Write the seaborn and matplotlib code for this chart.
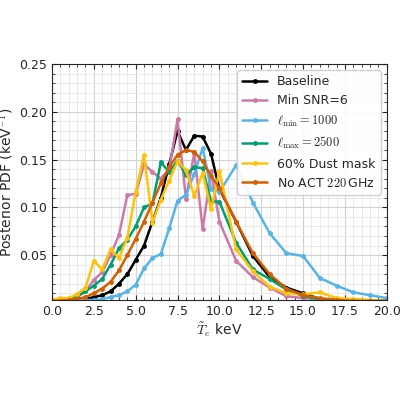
import matplotlib
matplotlib.use("Agg")
import matplotlib.pyplot as plt
import seaborn as sns
import numpy as np

# data
x_half = [0, 0.5, 1, 1.5, 2, 2.5, 3, 3.5, 4, 4.5, 5, 5.5, 6, 6.5, 7, 7.5, 8, 8.5, 9, 9.5, 10,
          11, 12, 13, 14, 15, 16, 17, 18, 19, 20]

baseline = [0.002, 0.002, 0.003, 0.003, 0.004, 0.006, 0.008, 0.012, 0.02, 0.03, 0.045, 0.06, 0.085,
            0.11, 0.145, 0.18, 0.16, 0.175, 0.174, 0.156, 0.119,
            0.085, 0.049, 0.027, 0.016, 0.01, 0.004, 0.003, 0.002, 0.002, 0.002]
min_snr = [0.003, 0.003, 0.004, 0.006, 0.012, 0.024, 0.032, 0.05, 0.071, 0.113, 0.114, 0.145, 0.137,
           0.13, 0.14, 0.192, 0.109, 0.157, 0.077, 0.138, 0.085,
           0.044, 0.027, 0.016, 0.007, 0.005, 0.004, 0.003, 0.002, 0.002, 0.002]
ell_min = [0.002, 0.002, 0.002, 0.003, 0.003, 0.003, 0.004, 0.006, 0.008, 0.012, 0.019, 0.036, 0.047,
           0.051, 0.078, 0.107, 0.113, 0.135, 0.162, 0.119, 0.116,
           0.144, 0.105, 0.073, 0.052, 0.049, 0.026, 0.018, 0.011, 0.008, 0.005]
ell_max = [0.002, 0.003, 0.004, 0.007, 0.012, 0.018, 0.025, 0.04, 0.057, 0.066, 0.08, 0.1, 0.104,
           0.147, 0.137, 0.149, 0.134, 0.142, 0.141, 0.106, 0.106,
           0.063, 0.035, 0.025, 0.014, 0.007, 0.004, 0.003, 0.002, 0.002, 0.002]
dust = [0.003, 0.005, 0.005, 0.009, 0.016, 0.044, 0.035, 0.056, 0.047, 0.068, 0.116, 0.155, 0.084,
        0.108, 0.128, 0.148, 0.139, 0.112, 0.136, 0.098, 0.138,
        0.056, 0.033, 0.017, 0.01, 0.009, 0.011, 0.005, 0.004, 0.003, 0.002]
no_act = [0.002, 0.002, 0.003, 0.004, 0.006, 0.01, 0.015, 0.022, 0.034, 0.05, 0.067, 0.085, 0.105,
          0.125, 0.142, 0.155, 0.16, 0.158, 0.148, 0.133, 0.12,
          0.085, 0.052, 0.03, 0.015, 0.008, 0.005, 0.003, 0.002, 0.002, 0.002]

series = [
    ("Baseline", baseline, "black"),
    ("Min SNR=6", min_snr, "#CC79A7"),
    (r"$\ell_{\rm min} = 1000$", ell_min, "#56B4E9"),
    (r"$\ell_{\rm max} = 2500$", ell_max, "#009E73"),
    ("60% Dust mask", dust, "#FFC20A"),
    (r"No ACT $220\,$GHz", no_act, "#D55E00"),
]

sns.set_style("ticks")
plt.rcParams['mathtext.fontset'] = 'cm'
plt.rcParams['font.size'] = 9
fig, ax = plt.subplots(figsize=(4, 4), dpi=100)

for name, vals, col in series:
    sns.lineplot(x=x_half, y=vals, ax=ax, color=col, marker="o", markersize=3.5,
                 markeredgewidth=0, linewidth=1.8, label=name)

ax.set_xlim(0, 20)
ax.set_ylim(0.003, 0.25)
ax.set_yticks([0.05, 0.10, 0.15, 0.20, 0.25])
ax.minorticks_on()
ax.grid(which="major", color="#d0d0d0", linewidth=0.8)
ax.grid(which="minor", color="#e6e6e6", linewidth=0.6)
ax.tick_params(which="both", direction="in", top=True, right=True, labelsize=9)
ax.set_xlabel(r"$\tilde{T}_e$ keV", fontsize=10, labelpad=2)
ax.set_ylabel(r"Posterior PDF (keV$^{-1}$)", fontsize=10, labelpad=3)
ax.legend(loc="upper right", fontsize=9, framealpha=0.9)

fig.subplots_adjust(left=0.13, right=0.967, top=0.84, bottom=0.25)
fig.savefig("out.png", dpi=100)
